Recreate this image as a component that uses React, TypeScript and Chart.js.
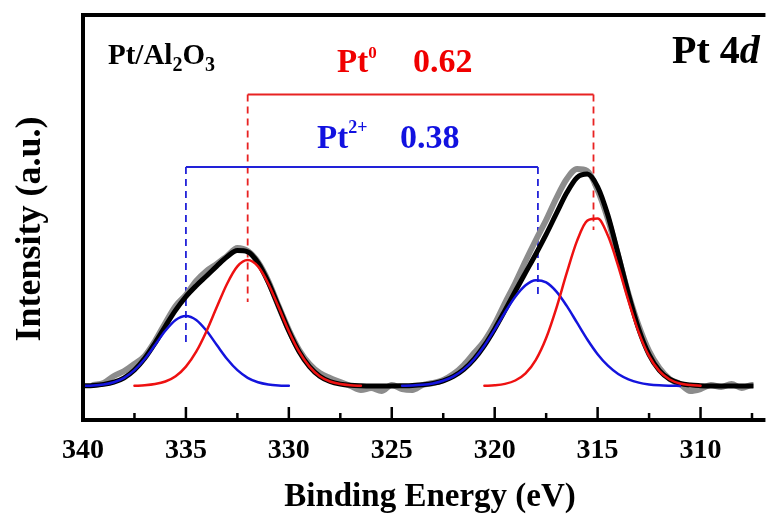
import React, { useEffect, useRef } from "react";
import { Chart, registerables } from "chart.js";

Chart.register(...registerables);

// Binding energy sample grid (eV)
const ENERGY = [
  340, 339.5, 339, 338.5, 338, 337.5, 337, 336.5, 336, 335.5,
  335, 334.5, 334, 333.5, 333, 332.5, 332, 331.5, 331, 330.5,
  330, 329.5, 329, 328.5, 328, 327.5, 327, 326.5, 326, 325.5,
  325, 324.5, 324, 323.5, 323, 322.5, 322, 321.5, 321, 320.5,
  320, 319.5, 319, 318.5, 318, 317.5, 317, 316.5, 316, 315.5,
  315, 314.5, 314, 313.5, 313, 312.5, 312, 311.5, 311, 310.5,
  310, 309.5, 309, 308.5, 308, 307.5, 307,
];

// Measured spectrum (grey)
const RAW = [
  null, 0.01, 0.03, 0.10, 0.15, 0.22, 0.30, 0.45, 0.63, 0.80,
  0.91, 1.05, 1.15, 1.22, 1.30, 1.38, 1.35, 1.24, 1.05, 0.80,
  0.56, 0.36, 0.22, 0.13, 0.08, 0.04, 0.00, -0.04, -0.02, -0.05,
  0.01, -0.03, -0.04, 0.01, 0.03, 0.06, 0.12, 0.21, 0.33, 0.45,
  0.62, 0.83, 1.03, 1.25, 1.46, 1.66, 1.88, 2.07, 2.17, 2.15,
  1.96, 1.67, 1.30, 0.92, 0.60, 0.35, 0.18, 0.07, 0.02, -0.05,
  -0.03, 0.01, -0.01, 0.02, -0.02, 0.01, 0.00,
];

// Fitted envelope (black)
const ENVELOPE = [
  0.002, 0.006, 0.016, 0.038, 0.082, 0.160, 0.277, 0.429, 0.597, 0.758,
  0.894, 1.003, 1.100, 1.199, 1.293, 1.354, 1.342, 1.234, 1.039, 0.795,
  0.550, 0.343, 0.194, 0.098, 0.045, 0.019, 0.007, 0.002, 0, 0,
  0, 0.002, 0.005, 0.012, 0.026, 0.052, 0.096, 0.166, 0.268, 0.405,
  0.571, 0.756, 0.947, 1.134, 1.320, 1.516, 1.726, 1.932, 2.084, 2.119,
  1.992, 1.707, 1.320, 0.917, 0.568, 0.314, 0.155, 0.068, 0.026, 0.009,
  0.003, 0, 0, 0, 0, 0, 0,
];

// Pt0 component (red)
const PT0_FIT = [
  null, null, null, null, null, 0.002, 0.007, 0.019, 0.045, 0.098,
  0.194, 0.343, 0.548, 0.789, 1.023, 1.196, 1.26, 1.196, 1.023, 0.789,
  0.548, 0.343, 0.194, 0.098, 0.045, 0.019, 0.007, 0.002, null, null,
  null, null, null, null, null, null, null, null, null, 0.002,
  0.007, 0.021, 0.055, 0.127, 0.262, 0.480, 0.782, 1.131, 1.451, 1.654,
  1.674, 1.504, 1.200, 0.850, 0.534, 0.298, 0.148, 0.065, 0.025, 0.009,
  0.003, null, null, null, null, null, null,
];

// Pt2+ component (blue)
const PT2_FIT = [
  0.002, 0.006, 0.016, 0.038, 0.082, 0.158, 0.270, 0.410, 0.552, 0.660,
  0.700, 0.660, 0.552, 0.410, 0.270, 0.158, 0.082, 0.038, 0.016, 0.006,
  0.002, null, null, null, null, null, null, null, null, null,
  null, 0.002, 0.005, 0.012, 0.026, 0.052, 0.096, 0.166, 0.268, 0.403,
  0.564, 0.735, 0.892, 1.007, 1.058, 1.036, 0.944, 0.801, 0.633, 0.465,
  0.318, 0.203, 0.120, 0.067, 0.034, 0.016, 0.007, 0.003, 0.001, null,
  null, null, null, null, null, null, null,
];

const X_TICKS = [340, 337.5, 335, 332.5, 330, 327.5, 325, 322.5, 320, 317.5, 315, 312.5, 310, 307.5];
const X_LABELS = [340, 335, 330, 325, 320, 315, 310];

const PT0_CENTERS = [332.0, 315.2];
const PT2_CENTERS = [335.0, 317.9];
const PT0_LEVEL = 2.915;
const PT2_LEVEL = 2.19;
const PT0_DROP_ENDS = [0.84, 1.56];
const PT2_DROP_ENDS = [0.39, 0.91];
const PT0_SHARE = "0.62";
const PT2_SHARE = "0.38";

const SERIF = "'Liberation Serif', 'Times New Roman', Times, serif";
const RED = "#f00000";
const BLUE = "#1212e0";

type Part = { text: string; size: number; dy?: number; italic?: boolean };

function drawRun(ctx: CanvasRenderingContext2D, parts: Part[], x: number, y: number, color: string) {
  let cx = x;
  ctx.fillStyle = color;
  ctx.textBaseline = "alphabetic";
  ctx.textAlign = "left";
  for (const p of parts) {
    ctx.font = `${p.italic ? "italic " : ""}bold ${p.size}px ${SERIF}`;
    ctx.fillText(p.text, cx, y + (p.dy || 0));
    cx += ctx.measureText(p.text).width;
  }
}

const bracketPlugin = {
  id: "brackets",
  beforeDatasetsDraw(chart: any) {
    const { ctx, scales } = chart;
    const xs = scales.x, ys = scales.y;
    const draw = (centers: number[], level: number, ends: number[], color: string) => {
      const x1 = xs.getPixelForValue(centers[0]);
      const x2 = xs.getPixelForValue(centers[1]);
      const yl = ys.getPixelForValue(level);
      ctx.save();
      ctx.strokeStyle = color;
      ctx.lineWidth = 1.8;
      ctx.setLineDash([]);
      ctx.beginPath();
      ctx.moveTo(x1, yl);
      ctx.lineTo(x2, yl);
      ctx.stroke();
      ctx.setLineDash([7, 5]);
      ctx.beginPath();
      ctx.moveTo(x1, yl);
      ctx.lineTo(x1, ys.getPixelForValue(ends[0]));
      ctx.moveTo(x2, yl);
      ctx.lineTo(x2, ys.getPixelForValue(ends[1]));
      ctx.stroke();
      ctx.restore();
    };
    draw(PT0_CENTERS, PT0_LEVEL, PT0_DROP_ENDS, "#e82222");
    draw(PT2_CENTERS, PT2_LEVEL, PT2_DROP_ENDS, "#2222d8");
  },
  afterDatasetsDraw(chart: any) {
    const { ctx, chartArea, scales } = chart;
    const xs = scales.x;
    ctx.save();
    ctx.setLineDash([]);
    ctx.strokeStyle = "#000";
    ctx.lineWidth = 4;
    ctx.lineCap = "square";
    ctx.beginPath();
    ctx.moveTo(chartArea.right + 10, chartArea.top);
    ctx.lineTo(chartArea.left, chartArea.top);
    ctx.lineTo(chartArea.left, chartArea.bottom);
    ctx.lineTo(chartArea.right + 10, chartArea.bottom);
    ctx.stroke();
    ctx.lineWidth = 2.5;
    ctx.lineCap = "butt";
    ctx.beginPath();
    for (const v of X_TICKS) {
      const px = xs.getPixelForValue(v);
      const len = X_LABELS.includes(v) ? 13 : 7;
      ctx.moveTo(px, chartArea.bottom);
      ctx.lineTo(px, chartArea.bottom - len);
    }
    ctx.stroke();
    ctx.restore();
  },
  afterDraw(chart: any) {
    const { ctx } = chart;
    ctx.save();
    drawRun(ctx, [
      { text: "Pt/Al", size: 29 },
      { text: "2", size: 20, dy: 7 },
      { text: "O", size: 29 },
      { text: "3", size: 20, dy: 7 },
    ], 108, 64, "#000");
    drawRun(ctx, [
      { text: "Pt 4", size: 40 },
      { text: "d", size: 40, italic: true },
    ], 672, 63, "#000");
    drawRun(ctx, [
      { text: "Pt", size: 33 },
      { text: "0", size: 17, dy: -14 },
    ], 337, 72, RED);
    drawRun(ctx, [{ text: PT0_SHARE, size: 34 }], 413, 72, RED);
    drawRun(ctx, [
      { text: "Pt", size: 33 },
      { text: "2+", size: 18, dy: -15 },
    ], 317, 148, BLUE);
    drawRun(ctx, [{ text: PT2_SHARE, size: 34 }], 400, 148, BLUE);

    ctx.fillStyle = "#000";
    ctx.font = `bold 33px ${SERIF}`;
    ctx.textAlign = "center";
    ctx.textBaseline = "alphabetic";
    ctx.fillText("Binding Energy (eV)", 430, 506);

    ctx.translate(40, 229);
    ctx.rotate(-Math.PI / 2);
    ctx.font = `bold 36px ${SERIF}`;
    ctx.fillText("Intensity (a.u.)", 0, 0);
    ctx.restore();
  },
};

export default function App() {
  const ref = useRef<HTMLCanvasElement | null>(null);

  useEffect(() => {
    if (!ref.current) return;
    const pts = (arr: (number | null)[]) => ENERGY.map((e, i) => ({ x: e, y: arr[i] }));
    const common = {
      pointRadius: 0,
      fill: false,
      cubicInterpolationMode: "monotone" as const,
      spanGaps: false,
      borderJoinStyle: "round" as const,
      borderCapStyle: "round" as const,
    };
    const chart = new Chart(ref.current, {
      type: "line",
      data: {
        datasets: [
          { label: "Pt0", data: pts(PT0_FIT), borderColor: "#ee1111", borderWidth: 2.5, order: 0, ...common },
          { label: "Pt2+", data: pts(PT2_FIT), borderColor: "#1414dd", borderWidth: 2.5, order: 1, ...common },
          { label: "Fit", data: pts(ENVELOPE), borderColor: "#000000", borderWidth: 5, order: 2, ...common },
          { label: "Raw", data: pts(RAW), borderColor: "#8c8c8c", borderWidth: 6, order: 3, ...common },
        ] as any,
      },
      options: {
        animation: false,
        responsive: false,
        events: [],
        layout: { padding: { left: 83, top: 15, right: 0, bottom: 0 } },
        plugins: { legend: { display: false }, tooltip: { enabled: false }, title: { display: false } },
        scales: {
          x: {
            type: "linear",
            position: "bottom",
            reverse: true,
            min: 307.43,
            max: 340,
            bounds: "data",
            afterBuildTicks: (s: any) => {
              s.ticks = X_TICKS.map((v) => ({ value: v }));
            },
            afterFit: (s: any) => {
              s.height = 98;
            },
            grid: { display: false, drawTicks: false },
            border: { display: false },
            ticks: {
              autoSkip: false,
              maxRotation: 0,
              minRotation: 0,
              padding: 14,
              color: "#000",
              font: { family: SERIF, size: 28, weight: "bold" },
              callback: (v: any) => (X_LABELS.includes(Number(v)) ? String(v) : ""),
            },
          },
          y: {
            type: "linear",
            display: false,
            min: -0.34,
            max: 3.71,
          },
        },
      } as any,
      plugins: [bracketPlugin],
    });
    return () => chart.destroy();
  }, []);

  return (
    <div style={{ position: "absolute", left: 0, top: 0, width: 766, height: 518, background: "#fff" }}>
      <canvas ref={ref} width={766} height={518} style={{ display: "block" }} />
    </div>
  );
}
